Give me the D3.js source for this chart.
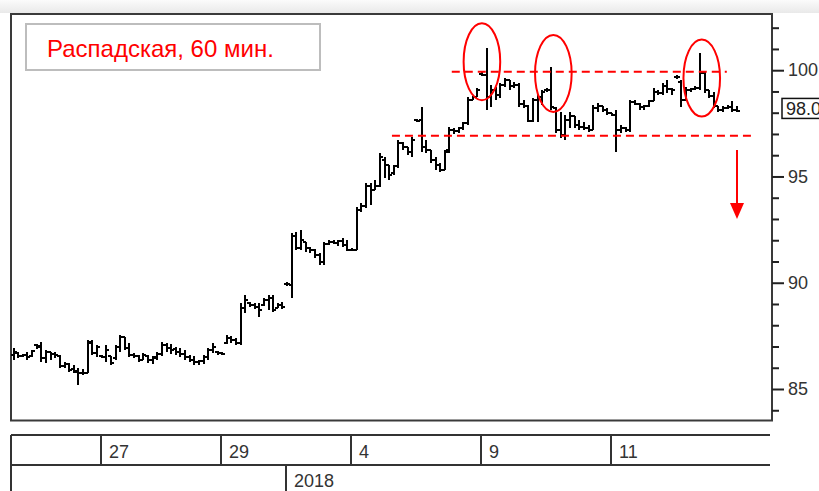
<!DOCTYPE html>
<html><head><meta charset="utf-8">
<script src="https://cdn.jsdelivr.net/npm/d3@7"></script>
<style>body{margin:0;background:#fff;} svg{display:block}</style>
</head><body>
<svg id="c" width="819" height="491"></svg>
<script>
// ---- data ----
const title = "Распадская, 60 мин.";
const days = ["26","27","28","29","3","4","5","9","10","11","12"];
const barsPerDay = [19,13,13,14,14,14,14,14,14,14,14];
const labeledDays = ["27","29","4","9","11"];
const yearLabel = "2018";
const yearStartDay = "3";
const yTickLabels = [85,90,95,100];

const open = [86.60,86.70,86.55,86.60,86.55,87.07,87.02,86.46,86.74,86.65,
86.55,86.08,86.18,85.94,85.85,85.76,85.76,87.21,86.70,86.55,
86.51,86.55,86.46,86.97,87.44,86.93,86.60,86.55,86.36,86.55,
86.36,86.46,86.65,87.07,86.93,86.88,86.74,86.65,86.51,86.36,
86.27,86.32,86.51,86.83,86.74,86.70,87.16,87.40,87.30,87.16,
88.81,89.04,88.95,88.86,88.95,89.18,89.28,88.81,88.95,89.93,
89.89,92.20,91.63,91.91,91.63,91.54,91.30,90.97,91.82,91.91,
91.87,91.96,91.77,91.54,91.54,93.42,93.61,94.55,94.36,94.55,
95.77,95.54,95.16,95.49,96.57,96.39,96.15,97.66,97.66,96.39,
96.24,95.77,95.54,95.30,96.24,97.19,97.14,97.28,97.52,98.60,
98.74,99.82,99.77,98.74,99.07,98.83,99.30,99.54,99.26,99.30,
98.41,98.32,97.61,98.60,98.74,99.07,99.07,98.22,97.19,96.95,
97.66,97.84,97.42,97.33,97.28,97.19,98.22,98.32,98.13,97.99,
97.89,97.19,97.28,97.19,98.50,98.41,98.27,98.32,98.55,98.97,
98.93,99.26,99.12,99.68,99.44,98.60,99.07,99.12,99.16,99.87,
99.07,98.79,98.32,98.13,98.22,98.27,98.13];
const high = [86.93,86.74,86.65,86.74,86.83,87.12,87.21,86.83,86.74,86.74,
86.60,86.27,86.22,86.13,85.99,85.94,87.30,87.30,87.07,86.60,
87.07,86.55,87.07,87.53,87.44,87.16,86.70,86.60,86.70,86.60,
86.55,86.74,87.21,87.16,87.12,86.97,86.93,86.83,86.60,86.55,
86.36,86.60,86.93,87.16,86.79,86.74,87.53,87.49,87.40,89.04,
89.42,89.09,89.04,89.04,89.28,89.42,89.42,89.04,89.09,90.03,
92.34,92.39,92.48,91.91,91.68,91.58,91.40,91.91,92.01,92.01,
92.01,92.10,92.01,91.63,93.56,93.75,94.69,94.69,94.83,96.10,
95.92,95.54,95.54,96.72,96.62,96.39,96.86,97.70,98.27,96.72,
96.24,95.92,95.63,96.24,97.33,97.28,97.33,97.56,98.74,98.79,
99.16,99.92,101.04,99.30,99.21,99.40,99.63,99.54,99.44,99.40,
98.60,98.36,98.69,98.83,99.07,99.16,100.15,98.27,98.03,97.89,
98.03,97.84,97.66,97.56,97.42,98.36,98.46,98.32,98.22,97.99,
98.13,97.42,97.33,98.60,98.60,98.46,98.36,98.60,99.16,99.07,
99.40,99.54,99.16,99.77,99.54,99.21,99.16,99.26,100.81,99.92,
99.07,98.97,98.32,98.32,98.36,98.55,98.32];
const low = [86.36,86.46,86.51,86.36,86.51,86.88,86.27,86.22,86.36,86.46,
85.99,85.99,85.80,85.76,85.19,85.66,85.76,86.60,86.51,86.46,
86.27,86.13,86.36,86.74,86.83,86.51,86.46,86.27,86.36,86.22,
86.18,86.36,86.55,86.74,86.65,86.60,86.51,86.36,86.27,86.13,
86.13,86.18,86.36,86.70,86.60,86.60,87.12,87.16,87.07,87.07,
88.57,88.86,88.76,88.38,88.90,88.71,88.62,88.81,88.76,89.84,
89.28,91.54,91.54,91.44,91.40,91.16,90.83,90.83,91.77,91.82,
91.72,91.68,91.49,91.49,91.54,93.33,93.52,93.66,94.36,94.51,
94.93,94.83,95.07,95.40,96.24,96.01,95.92,97.56,96.15,96.10,
95.63,95.30,95.21,95.30,96.10,97.00,97.04,97.19,97.42,98.60,
98.74,99.73,98.13,98.27,98.60,98.69,99.21,99.07,99.16,98.27,
98.22,97.56,97.56,97.56,98.36,98.97,98.13,97.04,96.81,96.72,
97.28,97.28,97.19,97.19,97.09,97.19,98.03,98.03,97.89,97.84,
96.15,97.04,97.09,97.09,98.36,98.13,98.13,98.27,98.55,98.83,
98.83,98.93,98.83,99.59,98.27,98.60,98.97,99.07,99.07,98.93,
98.69,98.22,98.03,98.03,98.17,98.03,98.03];
const close = [86.74,86.55,86.60,86.51,86.79,86.97,86.46,86.74,86.65,86.60,
86.08,86.18,85.90,85.80,85.76,85.76,87.16,86.70,86.97,86.51,
86.83,86.22,86.97,87.44,86.93,86.60,86.55,86.36,86.60,86.36,
86.51,86.65,87.07,86.93,86.83,86.74,86.65,86.51,86.36,86.27,
86.32,86.51,86.83,86.97,86.70,86.65,87.40,87.30,87.16,88.81,
89.18,88.95,88.86,88.71,89.18,89.28,88.71,88.95,88.86,89.93,
92.20,91.63,92.01,91.63,91.54,91.30,90.97,91.82,91.91,91.87,
91.96,91.77,91.54,91.54,93.42,93.61,94.55,94.36,94.55,95.92,
95.54,95.07,95.49,96.57,96.39,96.15,96.72,97.61,96.39,96.24,
95.77,95.54,95.30,96.15,97.19,97.14,97.28,97.52,98.60,98.74,
99.07,99.77,98.74,99.07,98.83,99.30,99.54,99.26,99.30,98.41,
98.32,97.61,98.60,98.74,98.97,99.07,98.27,97.19,96.95,97.66,
97.84,97.42,97.33,97.28,97.19,98.22,98.32,98.13,97.99,97.89,
97.19,97.28,97.19,98.50,98.41,98.27,98.32,98.55,98.97,98.93,
99.26,99.12,99.07,99.68,98.60,99.07,99.12,99.16,99.87,99.07,
98.79,98.32,98.13,98.22,98.27,98.13,98.06];

// annotations: [barIndex, price]
const resistance = {from: 94.5, to: 153.8, price: 99.93};
const support = {from: 81.6, to: 159, price: 96.92};
const ellipses = [[101, 100.40], [116.4, 99.85], [148.4, 99.63]];
const arrow = {index: 156, fromPrice: 96.25, toPrice: 93.0};

// ---- chart ----
const svg = d3.select("#c");
const N = close.length;
const x = d3.scaleLinear().domain([0, N - 1]).range([13.5, 737]);
const y = d3.scaleLinear().domain([85, 100]).range([389, 70.2]);
const red = "#ff0000";

const defs = svg.append("defs");
const g0 = defs.append("linearGradient").attr("id","topg").attr("x1",0).attr("y1",0).attr("x2",0).attr("y2",1);
g0.append("stop").attr("offset","0%").attr("stop-color","#fbfbfb");
g0.append("stop").attr("offset","100%").attr("stop-color","#e9e9e9");
svg.append("rect").attr("x",0).attr("y",0).attr("width",819).attr("height",13).attr("fill","url(#topg)");

// frame
svg.append("rect").attr("x",11).attr("y",14).attr("width",761).attr("height",406.5)
  .attr("fill","#fff").attr("stroke","#3a3a3a").attr("stroke-width",2);

// y axis
const ticks = d3.range(84, 103);
const yAxis = d3.axisRight(y).tickValues(ticks).tickSize(7).tickPadding(4)
  .tickFormat(d => yTickLabels.includes(d) ? d : "");
const ga = svg.append("g").attr("transform","translate(772,0)").call(yAxis);
ga.select(".domain").remove();
ga.selectAll(".tick line").attr("stroke","#222").attr("stroke-width",2)
  .attr("x2", d => d % 5 === 0 ? 12 : 7);
ga.selectAll(".tick text").attr("x",16).attr("fill","#333")
  .style("font-family","'Liberation Sans', Arial, sans-serif").style("font-size","18px");

// OHLC bars
const bars = svg.append("g").attr("stroke","#000").attr("stroke-width",2)
  .attr("fill","none").attr("shape-rendering","crispEdges");
d3.range(N).forEach(i => {
  const xi = Math.round(x(i));
  bars.append("path").attr("d",
    `M${xi},${y(high[i])}V${y(low[i])}M${xi-3},${y(open[i])}H${xi}M${xi},${y(close[i])}H${xi+3}`);
});

// support / resistance
[resistance, support].forEach(l => {
  svg.append("line").attr("x1", x(l.from)).attr("x2", x(l.to))
    .attr("y1", y(l.price)).attr("y2", y(l.price))
    .attr("stroke", red).attr("stroke-width",2).attr("stroke-dasharray","8,5");
});
ellipses.forEach(([i,p]) => {
  svg.append("ellipse").attr("cx", x(i)).attr("cy", y(p)).attr("rx",18.3).attr("ry",38.5)
    .attr("fill","none").attr("stroke",red).attr("stroke-width",2);
});
// arrow
{
  const ax = x(arrow.index), y1 = y(arrow.fromPrice), y2 = y(arrow.toPrice);
  svg.append("line").attr("x1",ax).attr("x2",ax).attr("y1",y1).attr("y2",y2-14)
    .attr("stroke",red).attr("stroke-width",2);
  svg.append("path").attr("d",`M${ax-7},${y2-16}L${ax+7},${y2-16}L${ax},${y2}Z`).attr("fill",red);
}

// last price box
{
  const yc = y(close[N-1]) - 3;
  svg.append("rect").attr("x",782).attr("y",yc-10).attr("width",60).attr("height",20)
    .attr("fill","#fff").attr("stroke","#111").attr("stroke-width",1.5);
  svg.append("text").attr("x",786).attr("y",yc+7).text(close[N-1].toFixed(2))
    .attr("fill","#222").style("font-family","'Liberation Sans', Arial, sans-serif").style("font-size","18px");
}

// title
svg.append("rect").attr("x",26).attr("y",24).attr("width",294).attr("height",46)
  .attr("fill","#fff").attr("stroke","#bdbdbd").attr("stroke-width",2);
svg.append("text").attr("x",47).attr("y",57).text(title).attr("fill",red)
  .style("font-family","'Liberation Sans', Arial, sans-serif").style("font-size","24px");

// date axis
const starts = {}; let acc = 0;
days.forEach((d,k) => { starts[d] = acc; acc += barsPerDay[k]; });
const da = svg.append("g").attr("stroke","#333").attr("stroke-width",2).attr("fill","none");
da.append("path").attr("d","M11,435H770M11,465H770M11,435V491");
const tf = "'Liberation Sans', Arial, sans-serif";
labeledDays.forEach(d => {
  const xd = Math.round(x(starts[d]) - 1);
  da.append("path").attr("d",`M${xd},435V465`);
  svg.append("text").attr("x", xd + 8).attr("y", 457.5).text(d).attr("fill","#333")
    .style("font-family",tf).style("font-size","18px");
});
{
  const xd = Math.round(x(starts[yearStartDay]) - 1);
  da.append("path").attr("d",`M${xd},465V491`);
  svg.append("text").attr("x", xd + 8).attr("y", 486.5).text(yearLabel).attr("fill","#333")
    .style("font-family",tf).style("font-size","18px");
}
</script>
</body></html>
